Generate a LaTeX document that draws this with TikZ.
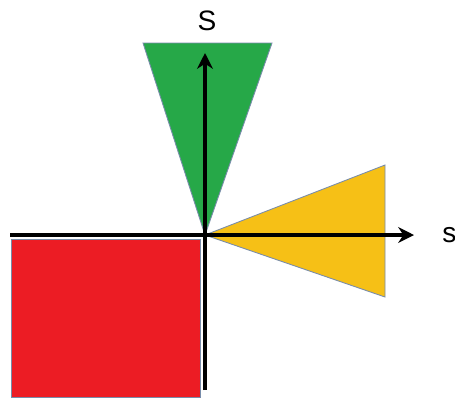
\documentclass[tikz,border=0pt]{standalone}
\usepackage{fontspec}
\setmainfont{Liberation Sans}
\usetikzlibrary{arrows.meta,positioning}
\definecolor{sgreen}{RGB}{38,168,72}
\definecolor{syellow}{RGB}{246,192,22}
\definecolor{sred}{RGB}{236,28,36}
\definecolor{sedge}{RGB}{120,140,170}

\begin{document}
\begin{tikzpicture}[
  x=0.02cm, y=-0.02cm,
  region/.style={draw=sedge, line width=0.5pt},
  axis/.style={line width=1.8pt},
  axis label/.style={font=\fontsize{16}{16}\selectfont, inner sep=0pt},
  >={Stealth[length=9pt,width=9pt]}
]
  \useasboundingbox (0,0) rectangle (455,400);
  \coordinate (O) at (205,235);
  \coordinate (W) at (10,235);
  \coordinate (E) at (414,235);
  \coordinate (S) at (205,390);
  \coordinate (N) at (205,53);
  % regions
  \filldraw[region, fill=sred] (11,239) rectangle (200,397);
  \filldraw[region, fill=sgreen] (O) -- (143,43) -- (272,43) -- cycle;
  \filldraw[region, fill=syellow] (O) -- (385,165) -- (385,297) -- cycle;
  % axes
  \draw[axis] (S) -- (O);
  \draw[axis, ->] (O) -- (N);
  \draw[axis, ->] (W) -- (E);
  \node[axis label] (ylab) at (207,21) {S};
  \node[axis label, anchor=west] (xlab) at (442,235) {s};
\end{tikzpicture}
\end{document}
